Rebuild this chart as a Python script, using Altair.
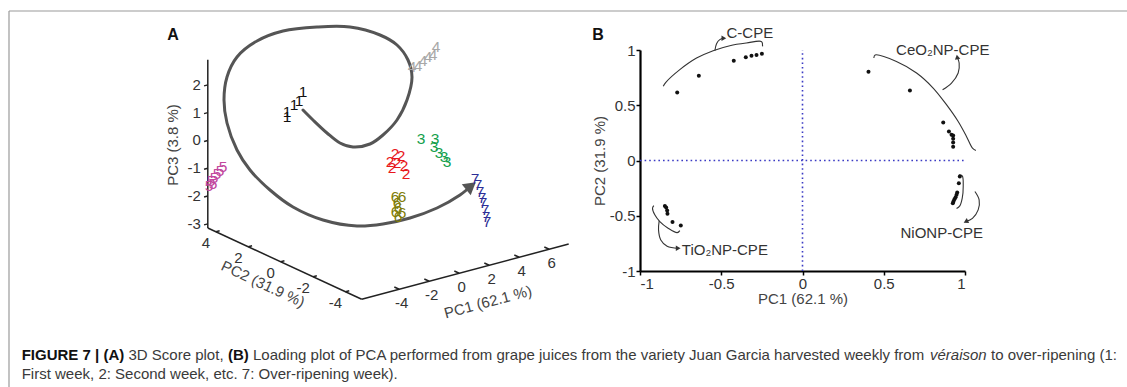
import altair as alt
import pandas as pd

W, H = 1127, 387
FONT = "Liberation Sans"

# ---------------- Panel A: 3D PCA scores (PC1, PC2, PC3) ----------------
w1_pc1 = [-5.00, -5.00, -4.53, -4.20, -3.93]
w1_pc2 = [1.0, 1.0, 1.0, 1.0, 1.0]
w1_pc3 = [1.57, 1.75, 1.94, 2.03, 2.32]
w2_pc1 = [0.04, 0.44, -0.29, 0.17, 0.64, -0.16, 0.77]
w2_pc2 = [-1.0, -1.0, -1.0, -1.0, -1.0, -1.0, -1.0]
w2_pc3 = [0.06, -0.07, -0.18, -0.29, -0.46, -0.42, -0.77]
w3_pc1 = [1.77, 2.71, 2.64, 2.97, 3.31, 3.51]
w3_pc2 = [-1.0, -1.0, -1.0, -1.0, -1.0, -1.0]
w3_pc3 = [0.35, 0.21, -0.07, -0.33, -0.52, -0.73]
w4_pc1 = [3.33, 3.73, 4.07, 4.40, 4.73, 4.93]
w4_pc2 = [1.0, 1.0, 1.0, 1.0, 1.0, 1.0]
w4_pc3 = [2.17, 2.15, 2.28, 2.38, 2.40, 2.66]
w5_pc1 = [-6.42, -6.29, -6.09, -5.89, -5.69, -5.49, -6.15]
w5_pc2 = [4.5, 4.5, 4.5, 4.5, 4.5, 4.5, 4.5]
w5_pc3 = [-1.65, -1.49, -1.41, -1.29, -1.22, -1.10, -1.62]
w6_pc1 = [0.04, 0.51, 0.17, 0.24, 0.04, 0.51, 0.24]
w6_pc2 = [-1.0, -1.0, -1.0, -1.0, -1.0, -1.0, -1.0]
w6_pc3 = [-1.49, -1.56, -1.73, -1.92, -2.03, -2.13, -2.24]
w7_pc1 = [3.21, 3.41, 3.55, 3.68, 3.75, 3.88, 3.95, 4.01]
w7_pc2 = [-3.0, -3.0, -3.0, -3.0, -3.0, -3.0, -3.0, -3.0]
w7_pc3 = [-0.76, -1.01, -1.28, -1.51, -1.70, -1.97, -2.23, -2.42]

weeks = ["1", "2", "3", "4", "5", "6", "7"]
week_colors = ["#111111", "#e8161b", "#13a04b", "#a8a8a8", "#c2489e", "#807c08", "#2e2e96"]

pc1_ticks = [-4, -2, 0, 2, 4, 6]
pc2_ticks = [4, 2, 0, -2, -4]
pc3_ticks = [2, 1, 0, -1, -2, -3]
PC1_LIM = (-6.5, 7.3)
PC2_LIM = (-5.0, 4.5)
PC3_LIM = (-3.15, 2.9)

# oblique projection of the 3D box onto the page (style)
OX, OY = 378.2, 148.2
E1 = (15.0, -4.0)
E2 = (-16.2, -7.5)
E3 = (0.0, -27.8)

# spiral arrow overlay (page annotation)
spiral_x = [303, 313, 327, 340, 353, 370, 383, 397, 407, 412, 408, 397, 380, 350, 317, 283,
            257, 237, 227, 224, 227, 237, 250, 270, 293, 323, 357, 383, 410, 437, 460, 471]
spiral_y = [110, 120, 133, 143, 147, 144, 135, 120, 100, 77, 60, 45, 35, 27, 27, 31,
            41, 57, 77, 100, 123, 150, 170, 190, 207, 220, 226, 224, 218, 208, 195, 186]

# ---------------- Panel B: PCA loadings ----------------
c_cpe_x = [-0.771, -0.638, -0.423, -0.349, -0.314, -0.283, -0.250]
c_cpe_y = [0.616, 0.767, 0.903, 0.934, 0.949, 0.955, 0.967]
ceo2_x = [0.406, 0.661, 0.866, 0.901, 0.917, 0.927, 0.927, 0.927, 0.927]
ceo2_y = [0.804, 0.634, 0.344, 0.263, 0.233, 0.227, 0.196, 0.163, 0.124]
nio_x = [0.968, 0.962, 0.952, 0.948, 0.942, 0.935, 0.929, 0.925]
nio_y = [-0.145, -0.205, -0.290, -0.311, -0.332, -0.350, -0.372, -0.387]
tio2_x = [-0.847, -0.839, -0.833, -0.831, -0.800, -0.749]
tio2_y = [-0.411, -0.426, -0.453, -0.483, -0.556, -0.589]

b_ticks = [-1, -0.5, 0, 0.5, 1]

# annotation brackets / curved arrows (data units of panel B)
c_br_x = [-0.857, -0.841, -0.755, -0.652, -0.550, -0.447, -0.345, -0.252, -0.246]
c_br_y = [0.671, 0.707, 0.822, 0.927, 0.994, 1.039, 1.063, 1.076, 1.033]
c_ar_x = [-0.539, -0.529, -0.509, -0.484]
c_ar_y = [0.994, 1.057, 1.094, 1.106]
ce_br_x = [0.439, 0.447, 0.578, 0.702, 0.804, 0.886, 0.958, 1.009, 1.046, 1.067]
ce_br_y = [0.927, 0.955, 0.897, 0.792, 0.656, 0.505, 0.353, 0.218, 0.112, 0.091]
ce_ar_x = [0.862, 0.917, 0.958, 0.964, 0.952]
ce_ar_y = [0.640, 0.701, 0.792, 0.882, 0.937]
ni_br_x = [0.962, 0.983, 0.989, 0.983, 0.968, 0.948]
ni_br_y = [-0.130, -0.139, -0.236, -0.341, -0.411, -0.435]
ni_ar_x = [1.061, 1.087, 1.081, 1.046, 1.005]
ni_ar_y = [-0.281, -0.356, -0.447, -0.523, -0.553]
ti_br_x = [-0.915, -0.923, -0.909, -0.878, -0.827, -0.771, -0.755]
ti_br_y = [-0.408, -0.432, -0.492, -0.553, -0.613, -0.653, -0.634]
ti_ar_x = [-0.882, -0.886, -0.872, -0.833, -0.765]
ti_ar_y = [-0.547, -0.628, -0.719, -0.776, -0.795]

group_labels = ["C-CPE", "CeO\u2082NP-CPE", "NiONP-CPE", "TiO\u2082NP-CPE"]
group_label_x = [-0.324, 0.863, 0.857, -0.478]
group_label_y = [1.157, 1.003, -0.655, -0.809]

CAP_SIZE = 15.0
caption1 = [("FIGURE 7 | (A)", "bold", "normal", 21.7),
            ("3D Score plot,", "normal", "normal", 128.5),
            ("(B)", "bold", "normal", 228),
            ("Loading plot of PCA performed from grape juices from the variety Juan Garcia harvested weekly from",
             "normal", "normal", 253),
            ("v\u00e9raison", "normal", "italic", 930),
            ("to over-ripening (1:", "normal", "normal", 991)]
caption2 = "First week, 2: Second week, etc. 7: Over-ripening week)."

# ====================================================================
XS = alt.Scale(domain=[0, W], nice=False, zero=False)
YS = alt.Scale(domain=[0, H], reverse=True, nice=False, zero=False)


def cx(f):
    return alt.X(f"{f}:Q", scale=XS, axis=None)


def cy(f):
    return alt.Y(f"{f}:Q", scale=YS, axis=None)


def proj(chart, p1, p2, p3, sx, sy):
    return chart.transform_calculate(**{
        sx: f"{OX} + ({E1[0]})*datum.{p1} + ({E2[0]})*datum.{p2} + ({E3[0]})*datum.{p3}",
        sy: f"{OY} + ({E1[1]})*datum.{p1} + ({E2[1]})*datum.{p2} + ({E3[1]})*datum.{p3}",
    })


# --- score labels
rows = []
for wk, a, b, c in [("1", w1_pc1, w1_pc2, w1_pc3), ("2", w2_pc1, w2_pc2, w2_pc3),
                    ("3", w3_pc1, w3_pc2, w3_pc3), ("4", w4_pc1, w4_pc2, w4_pc3),
                    ("5", w5_pc1, w5_pc2, w5_pc3), ("6", w6_pc1, w6_pc2, w6_pc3),
                    ("7", w7_pc1, w7_pc2, w7_pc3)]:
    for p1, p2, p3 in zip(a, b, c):
        rows.append({"week": wk, "pc1": p1, "pc2": p2, "pc3": p3})
scores = pd.DataFrame(rows)

score_layer = proj(alt.Chart(scores), "pc1", "pc2", "pc3", "sx", "sy").mark_text(
    font=FONT, fontSize=15.5, baseline="middle", align="center"
).encode(
    x=cx("sx"), y=cy("sy"), text="week:N",
    color=alt.Color("week:N", scale=alt.Scale(domain=weeks, range=week_colors), legend=None),
)

# --- 3D axes lines
axes_rows = [
    dict(a1=PC1_LIM[0], a2=PC2_LIM[1], a3=PC3_LIM[0], b1=PC1_LIM[0], b2=PC2_LIM[1], b3=PC3_LIM[1]),
    dict(a1=PC1_LIM[0], a2=PC2_LIM[1], a3=PC3_LIM[0], b1=PC1_LIM[0], b2=PC2_LIM[0], b3=PC3_LIM[0]),
    dict(a1=PC1_LIM[0], a2=PC2_LIM[0], a3=PC3_LIM[0], b1=PC1_LIM[1], b2=PC2_LIM[0], b3=PC3_LIM[0]),
]
tick_rows = []
for v in pc3_ticks:
    tick_rows.append(dict(a1=PC1_LIM[0], a2=PC2_LIM[1], a3=v, b1=PC1_LIM[0] - 0.25, b2=PC2_LIM[1], b3=v))
for v in pc2_ticks:
    tick_rows.append(dict(a1=PC1_LIM[0], a2=v, a3=PC3_LIM[0], b1=PC1_LIM[0] + 0.25, b2=v, b3=PC3_LIM[0]))
for v in pc1_ticks:
    tick_rows.append(dict(a1=v, a2=PC2_LIM[0], a3=PC3_LIM[0], b1=v, b2=PC2_LIM[0] + 0.3, b3=PC3_LIM[0]))

seg_df = pd.DataFrame(axes_rows + tick_rows)
seg_layer = proj(proj(alt.Chart(seg_df), "a1", "a2", "a3", "sx", "sy"), "b1", "b2", "b3", "sx2", "sy2").mark_rule(
    color="#222222", strokeWidth=1.5
).encode(x=cx("sx"), y=cy("sy"), x2="sx2:Q", y2="sy2:Q")

lab3 = pd.DataFrame({"pc1": [PC1_LIM[0]] * len(pc3_ticks), "pc2": [PC2_LIM[1]] * len(pc3_ticks),
                     "pc3": pc3_ticks, "t": [str(v) for v in pc3_ticks]})
lab2 = pd.DataFrame({"pc1": [PC1_LIM[0]] * len(pc2_ticks), "pc2": pc2_ticks,
                     "pc3": [PC3_LIM[0]] * len(pc2_ticks), "t": [str(v) for v in pc2_ticks]})
lab1 = pd.DataFrame({"pc1": pc1_ticks, "pc2": [PC2_LIM[0]] * len(pc1_ticks),
                     "pc3": [PC3_LIM[0]] * len(pc1_ticks), "t": [str(v) for v in pc1_ticks]})


def tick_text(df, align, dx, dy):
    return proj(alt.Chart(df), "pc1", "pc2", "pc3", "sx", "sy").mark_text(
        font=FONT, fontSize=15, color="#333333", align=align, baseline="middle", dx=dx, dy=dy
    ).encode(x=cx("sx"), y=cy("sy"), text="t:N")


ticklab3 = tick_text(lab3, "right", -7, 0)
ticklab2 = tick_text(lab2, "center", -10, 11)
ticklab1 = tick_text(lab1, "center", 2.5, 14)

# 3D axis titles (page positions)
a_titles = pd.DataFrame({
    "t": ["PC3 (3.8 %)", "PC2 (31.9 %)", "PC1 (62.1 %)"],
    "x": [173, 263, 488], "y": [145, 284, 302], "ang": [270, 25, 345],
})
a_title_layer = alt.Chart(a_titles).mark_text(
    font=FONT, fontSize=15, color="#444444", align="center", baseline="middle"
).encode(x=cx("x"), y=cy("y"), text="t:N", angle=alt.Angle("ang:Q", scale=None))

# spiral arrow
spiral = pd.DataFrame({"x": spiral_x, "y": spiral_y, "i": list(range(len(spiral_x)))})
spiral_layer = alt.Chart(spiral).mark_line(
    color="#555555", strokeWidth=3, strokeCap="round", interpolate="catmull-rom"
).encode(x=cx("x"), y=cy("y"), order="i:Q")
head = pd.DataFrame({"x": [spiral_x[-1]], "y": [spiral_y[-1]]})
head_layer = alt.Chart(head).mark_point(
    shape="triangle-up", filled=True, color="#555555", opacity=1, size=200, angle=51
).encode(x=cx("x"), y=cy("y"))

# frame, panel letters, caption
frame = pd.DataFrame({"x": [9, 9], "y": [11, 11], "x2": [W, 9], "y2": [11, H]})
frame_layer = alt.Chart(frame).mark_rule(color="#9a9a9a", strokeWidth=1.2).encode(
    x=cx("x"), y=cy("y"), x2="x2:Q", y2="y2:Q")
letters = pd.DataFrame({"t": ["A", "B"], "x": [173, 598], "y": [35, 35]})
letter_layer = alt.Chart(letters).mark_text(
    font=FONT, fontSize=16, fontWeight="bold", color="#111111", align="center", baseline="middle"
).encode(x=cx("x"), y=cy("y"), text="t:N")

cap_layers = []
for txt, wt, st, x0 in caption1:
    d = pd.DataFrame({"t": [txt], "x": [x0], "y": [355]})
    cap_layers.append(alt.Chart(d).mark_text(
        font=FONT, fontSize=CAP_SIZE, fontWeight=wt, fontStyle=st,
        color="#111111" if wt == "bold" else "#3a3a3a", align="left", baseline="middle"
    ).encode(x=cx("x"), y=cy("y"), text="t:N"))
d2 = pd.DataFrame({"t": [caption2], "x": [21.7], "y": [374]})
cap_layers.append(alt.Chart(d2).mark_text(
    font=FONT, fontSize=CAP_SIZE, color="#3a3a3a", align="left", baseline="middle"
).encode(x=cx("x"), y=cy("y"), text="t:N"))

page_group = alt.layer(frame_layer, seg_layer, ticklab3, ticklab2, ticklab1, a_title_layer,
                       spiral_layer, head_layer, score_layer, letter_layer, *cap_layers)

# ---------------- Panel B layers ----------------
XB = alt.Scale(domain=[-1, 1], range=[640, 965], nice=False, zero=False)
YB = alt.Scale(domain=[-1, 1], range=[271, 50], nice=False, zero=False)
AXB = alt.Axis(orient="bottom", offset=-(H - 271), values=b_ticks, labelExpr="'' + datum.value",
               grid=False, domainColor="#000000", domainWidth=2.2, tickColor="#000000", tickWidth=1.5,
               tickSize=4, labelFont=FONT, labelFontSize=15, labelColor="#333333", labelPadding=1,
               title="PC1 (62.1 %)", titleFont=FONT, titleFontSize=15, titleFontWeight="normal",
               titleColor="#444444", titlePadding=0)
AYB = alt.Axis(orient="left", offset=-640, values=b_ticks, labelExpr="'' + datum.value",
               grid=False, domainColor="#000000", domainWidth=2.2, tickColor="#000000", tickWidth=1.5,
               tickSize=4, labelFont=FONT, labelFontSize=15, labelColor="#333333", labelPadding=1,
               title="PC2 (31.9 %)", titleFont=FONT, titleFontSize=15, titleFontWeight="normal",
               titleColor="#444444", titlePadding=2)


def bx(f="x"):
    return alt.X(f"{f}:Q", scale=XB, axis=AXB)


def by(f="y"):
    return alt.Y(f"{f}:Q", scale=YB, axis=AYB)


pts = pd.DataFrame({
    "x": c_cpe_x + ceo2_x + nio_x + tio2_x,
    "y": c_cpe_y + ceo2_y + nio_y + tio2_y,
})
pts_layer = alt.Chart(pts).mark_circle(size=16, color="#111111", opacity=1).encode(x=bx(), y=by())

refs = pd.DataFrame({"x": [0, -1], "y": [-1, 0], "x2": [0, 1], "y2": [1, 0]})
ref_layer = alt.Chart(refs).mark_rule(color="#3b3bc4", strokeWidth=1.6, strokeDash=[1.6, 3]).encode(
    x=bx(), y=by(), x2="x2:Q", y2="y2:Q")

ann_rows = []
for g, xs, ys in [("cb", c_br_x, c_br_y), ("ca", c_ar_x, c_ar_y), ("eb", ce_br_x, ce_br_y),
                  ("ea", ce_ar_x, ce_ar_y), ("nb", ni_br_x, ni_br_y), ("na", ni_ar_x, ni_ar_y),
                  ("tb", ti_br_x, ti_br_y), ("ta", ti_ar_x, ti_ar_y)]:
    for i, (xv, yv) in enumerate(zip(xs, ys)):
        ann_rows.append({"g": g, "i": i, "x": xv, "y": yv})
ann = pd.DataFrame(ann_rows)
ann_layer = alt.Chart(ann).mark_line(color="#333333", strokeWidth=1.1, interpolate="catmull-rom").encode(
    x=bx(), y=by(), detail="g:N", order="i:Q")

heads = pd.DataFrame({
    "x": [c_ar_x[-1], ce_ar_x[-1], ni_ar_x[-1], ti_ar_x[-1]],
    "y": [c_ar_y[-1], ce_ar_y[-1], ni_ar_y[-1], ti_ar_y[-1]],
    "ang": [90, 350, 244, 90],
})
heads_layer = alt.Chart(heads).mark_point(shape="triangle-up", filled=True, color="#333333",
                                          opacity=1, size=30).encode(
    x=bx(), y=by(), angle=alt.Angle("ang:Q", scale=None))

glab = pd.DataFrame({"t": group_labels, "x": group_label_x, "y": group_label_y})
glab_layer = alt.Chart(glab).mark_text(font=FONT, fontSize=15, color="#333333", align="center",
                                       baseline="middle").encode(x=bx(), y=by(), text="t:N")

b_group = alt.layer(ref_layer, ann_layer, heads_layer, pts_layer, glab_layer)

chart = alt.layer(page_group, b_group).resolve_scale(
    x="independent", y="independent"
).properties(
    width=W, height=H, padding=0, autosize=alt.AutoSizeParams(type="none"), background="white"
).configure_view(stroke=None)

chart.save("out.html", embed_options={"renderer": "svg", "actions": False})
